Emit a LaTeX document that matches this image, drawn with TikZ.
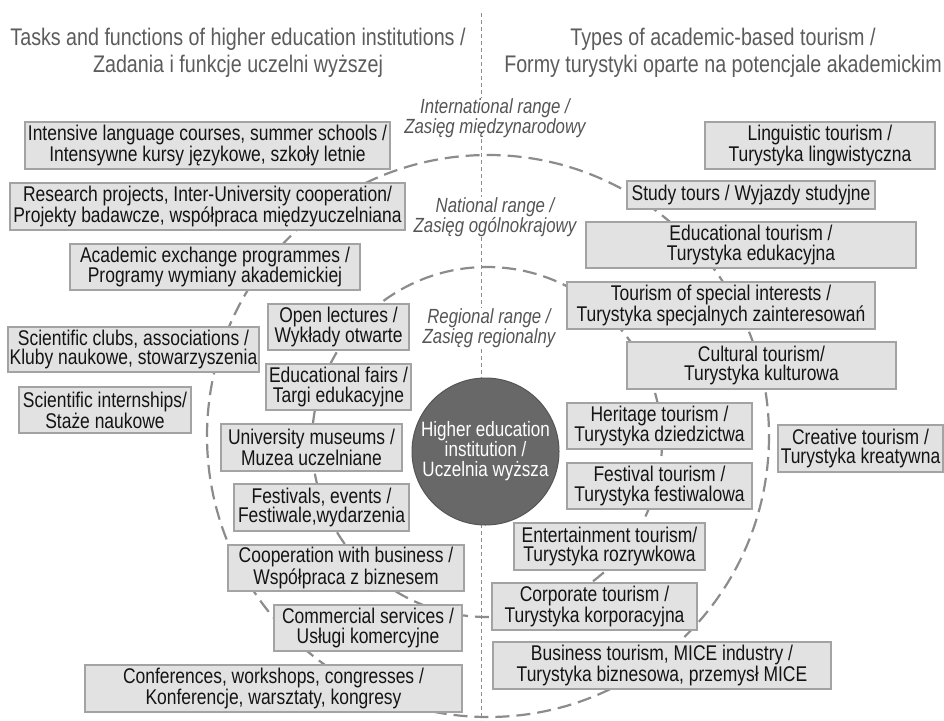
\documentclass[tikz,border=0pt]{standalone}
\usepackage{fontspec}
\setmainfont[FakeStretch=0.82]{Liberation Sans}
\definecolor{boxfill}{HTML}{E2E2E2}
\definecolor{boxline}{HTML}{A3A3A3}
\definecolor{ringgray}{HTML}{8C8C8C}
\definecolor{headgray}{HTML}{5C5C5C}
\definecolor{rangegray}{HTML}{555555}
\definecolor{hubfill}{HTML}{686868}
\definecolor{hubline}{HTML}{555555}
\newcommand\bxfont{\fontsize{21.3}{19.8}\selectfont}
\newcommand\hbfont{\fontsize{20.8}{20}\selectfont}
\newcommand\hdfont{\fontsize{24}{26.5}\selectfont}
\newcommand\rgfont{\fontsize{20.5}{19.5}\selectfont\itshape}
\newcommand\mybox[6]{\node[bx, minimum width=#4pt, minimum height=#5pt] (#1) at (#2,#3) {#6};}
\tikzset{
  bx/.style={draw=boxline, fill=boxfill, line width=1.1pt, inner sep=0pt, align=center, font=\bxfont, text=black!92},
  rangelbl/.style={font=\rgfont, text=rangegray, align=center, fill=white, inner sep=1pt},
  headlbl/.style={font=\hdfont, text=headgray, align=center, inner sep=0pt},
  ring/.style={draw=ringgray, line width=2.2pt, dash pattern=on 14pt off 7pt},
  divider/.style={draw=black!45, line width=0.8pt, dash pattern=on 4pt off 3pt},
  hub/.style={circle, fill=hubfill, draw=hubline, line width=1pt, minimum size=147pt, inner sep=0pt, align=center, font=\hbfont, text=white}
}
\begin{document}
\begin{tikzpicture}[x=1pt, y=-1pt]
\useasboundingbox[fill=white] (0,0) rectangle (944,720);
% divider
\coordinate (vtop) at (481,13);
\coordinate (vbot) at (481,720);
\draw[divider] (vtop) -- (vbot);
% rings
\draw[ring] (488,436) circle[radius=281];
\draw[ring] (487,442) circle[radius=175];
% headings
\node[headlbl] (headL) at (238,53) {Tasks and functions of higher education institutions /\\Zadania i funkcje uczelni wyższej};
\node[headlbl] (headR) at (723,53) {Types of academic-based tourism /\\Formy turystyki oparte na potencjale akademickim};
% range labels
\node[rangelbl] (intl) at (495,118) {International range /\\Zasięg międzynarodowy};
\node[rangelbl] (natl) at (495,217) {National range /\\Zasięg ogólnokrajowy};
\node[rangelbl] (regl) at (489,328) {Regional range /\\Zasięg regionalny};
% hub
\node[hub] (hei) at (485.5,451.5) {Higher education\\institution /\\Uczelnia wyższa};
% left boxes
\mybox{intensive}{207.5}{145.5}{365}{47}{Intensive language courses, summer schools /\\Intensywne kursy językowe, szkoły letnie}
\mybox{research}{207.5}{206.5}{395}{47}{Research projects, Inter-University cooperation/\\Projekty badawcze, współpraca międzyuczelniana}
\mybox{exchange}{215}{267}{290}{46}{Academic exchange programmes /\\Programy wymiany akademickiej}
\mybox{openlect}{338.5}{327}{141}{46}{Open lectures /\\Wykłady otwarte}
\mybox{clubs}{133.5}{349.5}{251}{45}{Scientific clubs, associations /\\Kluby naukowe, stowarzyszenia}
\mybox{fairs}{338.5}{387}{145}{46}{Educational fairs /\\Targi edukacyjne}
\mybox{intern}{105}{410}{172}{46}{Scientific internships/\\Staże naukowe}
\mybox{museums}{311.5}{447.5}{181}{47}{University museums /\\Muzea uczelniane}
\mybox{festivals}{321.5}{507.5}{175}{47}{Festivals, events /\\Festiwale,wydarzenia}
\mybox{coop}{346}{568}{236}{46}{Cooperation with business /\\Współpraca z biznesem}
\mybox{commercial}{368}{628}{188}{46}{Commercial services /\\Usługi komercyjne}
\mybox{conferences}{273.5}{688.5}{377}{47}{Conferences, workshops, congresses /\\Konferencje, warsztaty, kongresy}
% right boxes
\mybox{linguistic}{820}{145.5}{230}{47}{Linguistic tourism /\\Turystyka lingwistyczna}
\mybox{study}{751}{195}{248}{28}{Study tours / Wyjazdy studyjne}
\mybox{edutour}{751}{245}{330}{46}{Educational tourism /\\Turystyka edukacyjna}
\mybox{special}{721}{305.5}{308}{47}{Tourism of special interests /\\Turystyka specjalnych zainteresowań}
\mybox{cultural}{761.5}{365.5}{269}{47}{Cultural tourism/\\Turystyka kulturowa}
\mybox{heritage}{659.5}{426}{185}{46}{Heritage tourism /\\Turystyka dziedzictwa}
\mybox{creative}{860.5}{448.5}{165}{47}{Creative tourism /\\Turystyka kreatywna}
\mybox{festtour}{659.5}{486}{185}{46}{Festival tourism /\\Turystyka festiwalowa}
\mybox{entertain}{609.5}{546.5}{191}{47}{Entertainment tourism/\\Turystyka rozrywkowa}
\mybox{corporate}{594.5}{606.5}{205}{47}{Corporate tourism /\\Turystyka korporacyjna}
\mybox{business}{662}{665.5}{338}{47}{Business tourism, MICE industry /\\Turystyka biznesowa, przemysł MICE}
\end{tikzpicture}
\end{document}
